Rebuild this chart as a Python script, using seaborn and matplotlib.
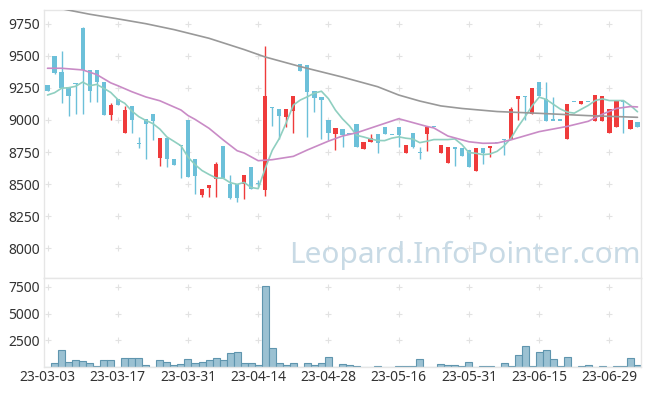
import numpy as np
import pandas as pd
import matplotlib
matplotlib.use("Agg")
import matplotlib.pyplot as plt
import seaborn as sns

sns.set_theme(style="white")
plt.rcParams["font.family"] = ["Noto Sans", "DejaVu Sans"]

# Trading days (KRX holidays skipped)
holidays = ["2023-05-01", "2023-05-05", "2023-05-29", "2023-06-06"]
dates = pd.bdate_range("2023-03-03", "2023-07-05", freq="C", holidays=holidays)

open_ = [9273, 9500, 9377, 9260, 9287, 9719, 9391, 9391, 9297, 9039,
         9164, 8901, 9109, 8818, 9005, 9047, 8706, 8862, 8695, 8800,
         9000, 8695, 8414, 8471, 8536, 8797, 8500, 8500, 8498, 8630,
         8505, 8453, 9100, 9083, 9026, 9073, 9437, 9430, 9227, 9177,
         9000, 8891, 8930, 8896, 8969, 8773, 8831, 8888, 8943, 8888,
         8943, 8745, 8896, 8747, 8891, 8948, 8745, 8667, 8792, 8784,
         8766, 8604, 8779, 8781, 8823, 8849, 8849, 9161, 9187, 9047,
         9295, 9161, 9000, 9000, 8849, 9148, 9122, 9148, 8995, 8995,
         8901, 8943, 9148, 8927, 8982]
high = [9273, 9500, 9540, 9260, 9290, 9730, 9391, 9391, 9297, 9135,
        9164, 9109, 9109, 8870, 9005, 9047, 8862, 8862, 8695, 8800,
        9000, 8695, 8461, 8495, 8674, 8797, 8570, 8500, 8570, 8630,
        8531, 9578, 9104, 9083, 9083, 9187, 9437, 9430, 9227, 9177,
        9000, 8935, 8930, 8896, 8969, 8831, 8888, 8888, 8943, 8888,
        8943, 8805, 8896, 8792, 8953, 8948, 8805, 8792, 8792, 8784,
        8766, 8779, 8779, 8797, 8823, 8849, 9099, 9187, 9187, 9248,
        9295, 9295, 9182, 9000, 9125, 9148, 9148, 9148, 9193, 9187,
        9083, 9148, 9148, 9000, 8982]
low = [9227, 9360, 9135, 9034, 9045, 9045, 9143, 9143, 9039, 9000,
       9117, 8901, 8896, 8779, 8693, 8844, 8643, 8635, 8648, 8545,
       8557, 8419, 8401, 8401, 8401, 8550, 8383, 8360, 8380, 8458,
       8479, 8406, 8953, 8849, 8943, 8896, 9385, 8870, 9065, 8849,
       8844, 8766, 8787, 8896, 8792, 8773, 8831, 8745, 8891, 8888,
       8787, 8745, 8779, 8693, 8760, 8948, 8745, 8667, 8643, 8721,
       8635, 8604, 8656, 8708, 8823, 8727, 8849, 9000, 9000, 9047,
       9187, 8995, 9000, 9000, 8849, 9148, 9122, 9148, 8995, 8995,
       8901, 8943, 8901, 8927, 8943]
close = [9227, 9370, 9248, 9190, 9280, 9391, 9229, 9300, 9039, 9117,
         9117, 9078, 9000, 8818, 8969, 8995, 8862, 8693, 8648, 8795,
         8557, 8565, 8461, 8495, 8656, 8550, 8393, 8393, 8570, 8458,
         8505, 9187, 9095, 9031, 9083, 9187, 9385, 9221, 9174, 9156,
         8896, 8935, 8883, 8896, 8792, 8831, 8857, 8823, 8891, 8888,
         8883, 8805, 8792, 8747, 8943, 8948, 8805, 8792, 8773, 8721,
         8635, 8779, 8740, 8797, 8823, 8849, 9083, 9187, 9187, 9248,
         9187, 8995, 9000, 9000, 9125, 9148, 9148, 9148, 9193, 9187,
         9083, 9148, 9148, 9000, 8943]
volume = [0, 375, 1594, 469, 656, 562, 375, 122, 656, 656,
          0, 844, 844, 844, 188, 0, 656, 469, 188, 281,
          750, 375, 469, 656, 844, 656, 1312, 1406, 375, 375,
          188, 7594, 1781, 375, 188, 375, 0, 375, 188, 375,
          938, 0, 281, 188, 94, 0, 0, 94, 0, 0,
          94, 94, 94, 750, 0, 0, 281, 188, 188, 94,
          469, 0, 94, 94, 0, 375, 94, 1125, 1969, 94,
          1406, 1594, 750, 94, 938, 0, 94, 188, 0, 94,
          0, 94, 94, 844, 188]

# moving averages (earlier history not shown)
ma5_head = [9195, 9213, 9248, 9252]
ma20_idx = [0, 2, 5, 7, 9, 10, 12, 14, 16, 19, 20, 21, 23, 25, 27, 28, 30, 32,
            35, 37, 40, 42, 44, 47, 50, 52, 54, 55, 57, 60, 62, 64, 66, 70,
            74, 77, 79, 81, 83, 84]
ma20_val = [9404, 9404, 9391, 9355, 9290, 9268, 9221, 9180, 9150, 9078, 9035,
            9005, 8935, 8845, 8760, 8742, 8682, 8690, 8716, 8766, 8835, 8875,
            8900, 8955, 9010, 8980, 8950, 8938, 8875, 8830, 8818, 8820, 8845,
            8909, 8950, 8990, 9045, 9090, 9105, 9102]
ma60_idx = [0, 6, 10, 14, 18, 23, 28, 31, 36, 42, 47, 50, 53, 56, 59, 64, 70, 77, 84]
ma60_val = [9890, 9826, 9790, 9752, 9706, 9638, 9550, 9492, 9417, 9335, 9260,
            9195, 9148, 9110, 9090, 9066, 9052, 9034, 9021]

price_ticks = [8000, 8250, 8500, 8750, 9000, 9250, 9500, 9750]
vol_ticks = [2500, 5000, 7500]

UP, DOWN = "#ef3b3b", "#6cc0d9"
FRAME = "#e6e6e6"

df = pd.DataFrame({"date": dates, "open": open_, "high": high, "low": low,
                   "close": close, "volume": volume})
df["x"] = np.arange(len(df))
df["color"] = np.where(df["close"] > df["open"], UP, DOWN)
df["ma5"] = df["close"].rolling(5).mean()
df.loc[:3, "ma5"] = ma5_head

fig = plt.figure(figsize=(6.49, 3.96), dpi=100)
ax = fig.add_axes([44 / 649, (396 - 278) / 396, 597 / 649, 268 / 396])
axv = fig.add_axes([44 / 649, (396 - 367) / 396, 597 / 649, 89 / 396])

xt = df["x"].values[::10]

# grid crosses
for a, yt in ((ax, price_ticks), (axv, vol_ticks)):
    gx, gy = np.meshgrid(xt, yt)
    a.scatter(gx.ravel(), gy.ravel(), marker="+", s=22, color="#e2e2e2",
              linewidth=0.8, zorder=0)

# watermark
ax.text(1.0, 0.055, "Leopard.InfoPointer.com", transform=ax.transAxes,
        ha="right", va="baseline", fontsize=21.5, color="#c8dae5", zorder=0)

# candles
body = (df["close"] - df["open"]).abs()
body_h = body.clip(lower=8)
body_lo = df[["open", "close"]].min(axis=1) - (body_h - body) / 2
ax.vlines(df["x"], df["low"], df["high"], colors=df["color"], linewidth=1, zorder=2)
ax.bar(df["x"], body_h, bottom=body_lo, width=0.6, color=df["color"],
       linewidth=0, zorder=3)

# moving averages
sns.lineplot(x=df["x"], y=df["ma5"], ax=ax, color="#8fcfc0", linewidth=1.2, zorder=4)
sns.lineplot(x=ma20_idx, y=ma20_val, ax=ax, color="#c98bc6", linewidth=1.2, zorder=4)
sns.lineplot(x=ma60_idx, y=ma60_val, ax=ax, color="#999999", linewidth=1.2, zorder=4)

ax.set_xlim(-0.5, len(df) - 0.5)
ax.set_ylim(7766, 9859)
ax.set_yticks(price_ticks)
ax.set_xticks(xt)
ax.set_xticklabels([])
ax.set_xlabel("")
ax.set_ylabel("")

# volume
sns.barplot(x=df["x"], y=df["volume"], ax=axv, color="#9bc1d2", saturation=1,
            width=1.0, edgecolor="#5f95ae", linewidth=0.8, errorbar=None, zorder=2)
axv.set_xlim(-0.5, len(df) - 0.5)
axv.set_ylim(0, 8343)
axv.set_yticks(vol_ticks)
axv.set_xticks(xt)
axv.set_xticklabels(df["date"].dt.strftime("%y-%m-%d").values[::10])
axv.set_xlabel("")
axv.set_ylabel("")

for a in (ax, axv):
    a.tick_params(length=0, labelsize=10, labelcolor="#333333", pad=3)
    for s in a.spines.values():
        s.set_color(FRAME)
        s.set_linewidth(1)
axv.tick_params(axis="x", pad=2)

fig.savefig("out.png", dpi=100)
